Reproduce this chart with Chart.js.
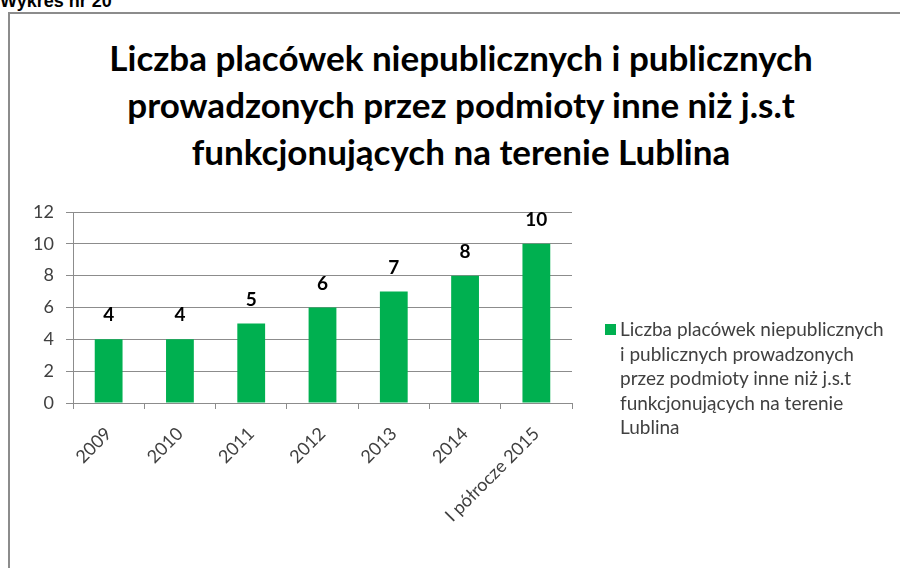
<!DOCTYPE html>
<html lang="pl">
<head>
<meta charset="utf-8">
<script src="https://cdn.jsdelivr.net/npm/chart.js@4.4.1/dist/chart.umd.min.js"></script>
<style>
    html, body { margin: 0; padding: 0; background: #fff; }
    body { width: 900px; height: 568px; position: relative; overflow: hidden; }
    #caption {
        position: absolute; left: 0; top: -9px;
        font: bold 18px "Liberation Sans", Arial, sans-serif; color: #000;
        line-height: 20px; white-space: nowrap;
    }
    #frame {
        position: absolute; left: 8px; top: 12px; width: 1000px; height: 700px;
        border-left: 2px solid #8c8c8c; border-top: 2px solid #8c8c8c;
    }
    #title {
        position: absolute; left: 61px; width: 800px; top: 34px;
        text-align: center; font: bold 35px Lato, sans-serif; color: #000;
        line-height: 47px;
    }
    #chartBox { position: absolute; left: 0; top: 0; width: 900px; height: 568px; }
    #legend {
        position: absolute; left: 605px; top: 317px; width: 295px;
        font: 19px Lato, sans-serif; color: #404040; line-height: 24.5px;
    }
    #legend .swatch {
        position: absolute; left: 0; top: 7px; width: 11px; height: 11px; background: #00B050;
    }
    #legend .text { margin-left: 15px; }
</style>
</head>
<body>
<div id="caption">Wykres nr 20</div>
<div id="frame"></div>
<div id="title">Liczba placówek niepublicznych i publicznych<br>prowadzonych przez podmioty inne niż j.s.t<br>funkcjonujących na terenie Lublina</div>
<div id="chartBox"><canvas id="placowkiChart"></canvas></div>
<div id="legend"><span class="swatch"></span><div class="text">Liczba placówek niepublicznych<br>i publicznych prowadzonych<br>przez podmioty inne niż j.s.t<br>funkcjonujących na terenie<br>Lublina</div></div>

<script>
// Data
const years = ['2009', '2010', '2011', '2012', '2013', '2014', 'I półrocze 2015'];
const placowki = [4, 4, 5, 6, 7, 8, 10];
const yTicks = [0, 2, 4, 6, 8, 10, 12];
const seriesName = 'Liczba placówek niepublicznych i publicznych prowadzonych przez podmioty inne niż j.s.t funkcjonujących na terenie Lublina';

const GREEN = '#00B050';
const AXIS = '#8c8c8c';

/**
 * Draw value labels above each bar
 */
const valueLabels = {
    id: 'valueLabels',
    afterDatasetsDraw(chart) {
        const ctx = chart.ctx;
        const meta = chart.getDatasetMeta(0);
        ctx.save();
        ctx.font = 'bold 19px Lato, sans-serif';
        ctx.fillStyle = '#000';
        ctx.textAlign = 'center';
        ctx.textBaseline = 'middle';
        meta.data.forEach((bar, i) => {
            ctx.fillText(String(placowki[i]), bar.x, bar.y - 24);
        });
        ctx.restore();
    }
};

const ctx = document.getElementById('placowkiChart');

new Chart(ctx, {
    type: 'bar',
    data: {
        labels: years,
        datasets: [{
            label: seriesName,
            data: placowki,
            backgroundColor: GREEN,
            borderWidth: 0,
            categoryPercentage: 1,
            barPercentage: 0.39
        }]
    },
    options: {
        responsive: true,
        maintainAspectRatio: false,
        animation: false,
        layout: {
            padding: { left: 0, top: 212, right: 328, bottom: 10 }
        },
        plugins: {
            legend: { display: false },
            title: { display: false },
            tooltip: { enabled: false }
        },
        scales: {
            y: {
                min: 0,
                max: 12,
                afterFit: (scale) => { scale.width = 73; },
                afterBuildTicks: (scale) => {
                    scale.ticks = yTicks.map(v => ({ value: v }));
                },
                ticks: {
                    color: '#404040',
                    padding: 12,
                    font: { family: 'Lato', size: 18 }
                },
                grid: {
                    color: AXIS,
                    lineWidth: 1,
                    tickLength: 7
                },
                border: { color: AXIS, width: 1 }
            },
            x: {
                afterFit: (scale) => { scale.height = 155; },
                ticks: {
                    color: '#404040',
                    minRotation: 45,
                    maxRotation: 45,
                    padding: 14,
                    font: { family: 'Lato', size: 18 }
                },
                grid: {
                    offset: true,
                    drawOnChartArea: false,
                    color: AXIS,
                    tickLength: 6
                },
                border: { color: AXIS, width: 1 }
            }
        }
    },
    plugins: [valueLabels]
});
</script>
</body>
</html>
